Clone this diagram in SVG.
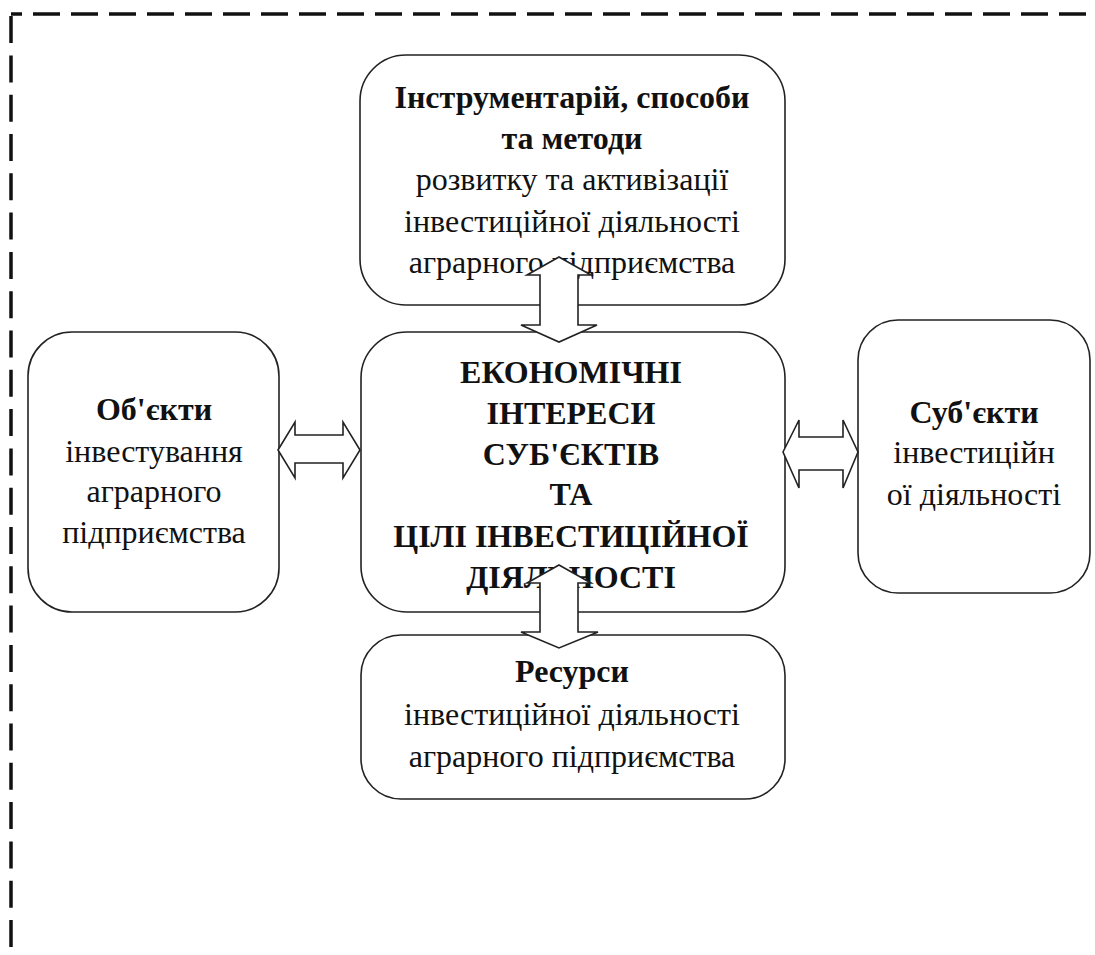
<svg xmlns="http://www.w3.org/2000/svg" width="1095" height="955" viewBox="0 0 1095 955">
<style>
.box{fill:#fff;stroke:#222;stroke-width:1.6}
.arr{fill:#fff;stroke:#222;stroke-width:1.6;stroke-linejoin:miter}
text{font-family:"Liberation Serif","Times New Roman",serif;font-size:32px;fill:#111;text-anchor:middle}
.b{font-weight:bold}
.border{fill:none;stroke:#111;stroke-width:3.5}
</style>
<rect width="1095" height="955" fill="#fff"/>
<g id="border">
<path class="border" d="M1086 14 H11" stroke-dasharray="27 11"/>
<path class="border" d="M11 947 V14" stroke-dasharray="27 12.3"/>
</g>
<g id="node-tools">
<rect class="box" x="360" y="55" width="425" height="250" rx="46" ry="46"/>
<text class="b" x="572" y="108">Інструментарій, способи</text>
<text class="b" x="572" y="149">та методи</text>
<text x="572" y="190">розвитку та активізації</text>
<text x="572" y="232">інвестиційної діяльності</text>
<text x="572" y="273">аграрного підприємства</text>
</g>
<g id="node-interests">
<rect class="box" x="361" y="332" width="424" height="280" rx="46" ry="46"/>
<text class="b" x="571" y="383">ЕКОНОМІЧНІ</text>
<text class="b" x="571" y="424">ІНТЕРЕСИ</text>
<text class="b" x="571" y="465">СУБ'ЄКТІВ</text>
<text class="b" x="571" y="505">ТА</text>
<text class="b" x="571" y="547">ЦІЛІ ІНВЕСТИЦІЙНОЇ</text>
<text class="b" x="571" y="588">ДІЯЛЬНОСТІ</text>
</g>
<g id="node-objects">
<rect class="box" x="28" y="332" width="251" height="280" rx="44" ry="44"/>
<text class="b" x="154" y="420">Об'єкти</text>
<text x="154" y="462">інвестування</text>
<text x="154" y="502">аграрного</text>
<text x="154" y="543">підприємства</text>
</g>
<g id="node-subjects">
<rect class="box" x="858" y="320" width="232" height="273" rx="40" ry="40"/>
<text class="b" x="974" y="423">Суб'єкти</text>
<text x="974" y="463">інвестиційн</text>
<text x="974" y="505">ої діяльності</text>
</g>
<g id="node-resources">
<rect class="box" x="361" y="635" width="424" height="164" rx="40" ry="40"/>
<text class="b" x="572" y="682">Ресурси</text>
<text x="572" y="725">інвестиційної діяльності</text>
<text x="572" y="767">аграрного підприємства</text>
</g>
<g id="connectors">
<polygon class="arr" points="559,257 591,275 578,275 578,325 597,325 559,342 521,325 540,325 540,275 527,275"/>
<polygon class="arr" points="559,565 591,583 578,583 578,632 598,632 559,648 521,632 540,632 540,583 527,583"/>
<polygon class="arr" points="278,450 295,422 295,435 343,435 343,422 360,450 343,478 343,463 295,463 295,478"/>
<polygon class="arr" points="783,452 799,420 799,437 843,437 843,420 858,452 843,488 843,470 799,470 799,488"/>
</g>
</svg>
